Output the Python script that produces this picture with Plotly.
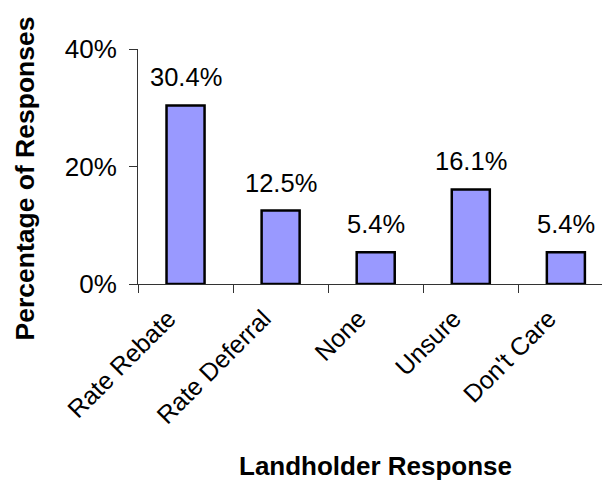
import plotly.graph_objects as go

# Survey results: share of landholders choosing each response
categories = ["Rate Rebate", "Rate Deferral", "None", "Unsure", "Don't Care"]
shares = [0.304, 0.125, 0.054, 0.161, 0.054]
y_ticks = [0, 0.2, 0.4]
y_tick_labels = ["0%", "20%", "40%"]

FONT = "Liberation Sans, Arial, sans-serif"

fig = go.Figure()
fig.add_trace(go.Bar(
    x=categories,
    y=shares,
    width=0.4,
    marker=dict(color="#9999FF", line=dict(color="black", width=2.5)),
    hoverinfo="skip",
))

# value labels above each bar
for cat, val in zip(categories, shares):
    fig.add_annotation(
        x=cat, y=val, xref="x", yref="y",
        text=f"{val * 100:.1f}%",
        showarrow=False, yanchor="bottom", yshift=12,
        font=dict(family=FONT, size=25.5, color="black"),
    )

# axis titles
fig.add_annotation(
    x=2, y=-0.776, xref="x", yref="paper",
    text="<b>Landholder Response</b>", showarrow=False,
    xanchor="center", yanchor="middle",
    font=dict(family=FONT, size=26, color="black"),
)
fig.add_annotation(
    x=-0.244, y=0.448, xref="paper", yref="paper",
    text="<b>Percentage of Responses</b>", showarrow=False, textangle=-90,
    xanchor="center", yanchor="middle",
    font=dict(family=FONT, size=26.5, color="black"),
)

fig.update_layout(
    width=602, height=481,
    margin=dict(l=138, r=0, t=49, b=197),
    paper_bgcolor="white", plot_bgcolor="white",
    showlegend=False,
    font=dict(family=FONT, size=25, color="black"),
    bargap=0.6,
)
fig.update_xaxes(
    range=[-0.5, 4.38],
    showline=True, linecolor="#333333", linewidth=1,
    ticks="outside", tickson="boundaries", ticklen=8, tickcolor="#333333",
    tickangle=-45, ticklabelshift=-17, ticklabelstandoff=9,
    tickfont=dict(family=FONT, size=25, color="black"),
    showgrid=False, zeroline=False, fixedrange=True,
)
fig.update_yaxes(
    range=[0, 0.4],
    tickvals=y_ticks, ticktext=y_tick_labels,
    showline=True, linecolor="#333333", linewidth=1,
    ticks="outside", ticklen=8, tickcolor="#333333", ticklabelstandoff=7,
    tickfont=dict(family=FONT, size=26, color="black"),
    showgrid=False, zeroline=False, fixedrange=True,
)

fig.write_html("out.html", config={"displayModeBar": False})
